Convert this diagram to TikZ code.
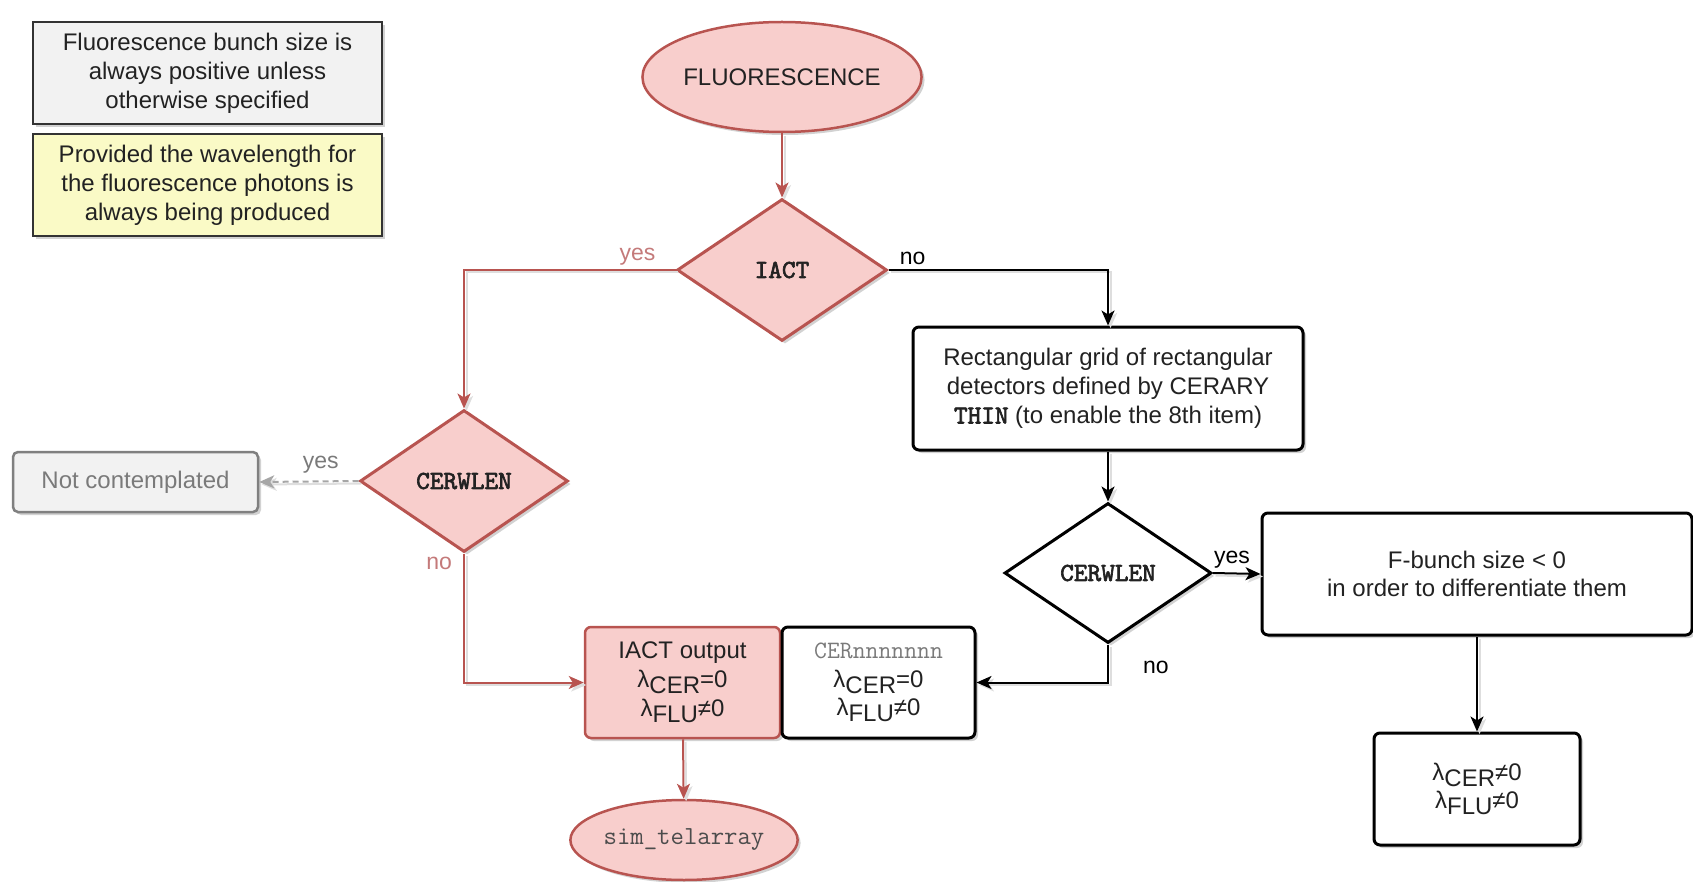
\documentclass[tikz,border=0pt]{standalone}
\usepackage{fontspec}
\setmainfont{Liberation Sans}
\newfontfamily\lmttb{lmmono10-regular}[Extension=.otf, FakeBold=2.5]
\usetikzlibrary{shapes.geometric, arrows.meta, shadows}
\definecolor{redS}{HTML}{B85450}
\definecolor{pinkF}{HTML}{F8CECC}
\definecolor{labred}{HTML}{C47A7A}
\definecolor{noteG}{HTML}{F2F2F2}
\definecolor{noteY}{HTML}{FAFAC6}
\definecolor{txt}{HTML}{222222}
\definecolor{greyT}{HTML}{7A7A7A}
\definecolor{greyS}{HTML}{808080}
\newcommand\lsb[1]{\raisebox{-6pt}{#1}}
\begin{document}
\begin{tikzpicture}[x=1pt,y=-1pt,
  base/.style={font=\fontsize{24}{28.8}\selectfont, text=txt, align=center, inner sep=0pt},
  shad/.style={drop shadow={shadow xshift=3pt, shadow yshift=-3pt, fill=black!35, opacity=0.5}},
  note/.style={base, shad, draw=black!80, line width=2pt, rectangle, minimum width=349pt, minimum height=102pt},
  blackbox/.style={base, shad, draw=black, fill=white, line width=3pt, rectangle, rounded corners=6pt},
  redbox/.style={base, shad, draw=redS, fill=pinkF, line width=2.5pt, rectangle, rounded corners=6pt},
  redell/.style={base, shad, draw=redS, fill=pinkF, line width=2.5pt, ellipse},
  monob/.style={font=\lmttb\fontsize{26}{30}\selectfont},
  reddia/.style={base, shad, draw=redS, fill=pinkF, line width=3pt, diamond, monob},
  blackdia/.style={base, shad, draw=black, fill=white, line width=3pt, diamond, monob},
  tip/.style={-{Stealth[length=15pt,width=13pt,inset=4pt]}},
  eshadow/.style={preaction={draw=black!13, line width=2pt, transform canvas={shift={(2.5pt,-2.5pt)}}}},
  redarrow/.style={eshadow, draw=redS, line width=2pt, tip},
  blackarrow/.style={eshadow, draw=black, line width=2pt, tip},
  greyarrow/.style={eshadow, draw=black!35, line width=2pt, dashed, dash pattern=on 6pt off 4pt, tip},
  elab/.style={font=\fontsize{23}{27}\selectfont, inner sep=2pt},
]
\useasboundingbox (0,0) rectangle (1693,882);

% notes
\node[note, fill=noteG] (n1) at (207.5,73) {Fluorescence bunch size is\\always positive unless\\otherwise specified};
\node[note, fill=noteY] (n2) at (207.5,185.5) {Provided the wavelength for\\the fluorescence photons is\\always being produced};

% main flow
\node[redell, minimum width=270pt, minimum height=110pt] (fl) at (782,77) {FLUORESCENCE};
\node[reddia, minimum width=210pt, minimum height=142pt] (iact) at (782,270) {IACT};
\node[reddia, minimum width=208pt, minimum height=142pt] (cw1) at (464,481) {CERWLEN};
\node[base, shad, draw=greyS, fill=noteG, line width=2.5pt, rounded corners=5pt, text=greyT,
      minimum width=245pt, minimum height=60pt] (nc) at (135.5,482) {Not contemplated};
\node[blackbox, minimum width=390pt, minimum height=123pt] (rg) at (1108,388.5)
  {Rectangular grid of rectangular\\detectors defined by CERARY\\{\lmttb\fontsize{26}{28.8}\selectfont THIN} (to enable the 8th item)};
\node[blackdia, minimum width=207pt, minimum height=140pt] (cw2) at (1108,573) {CERWLEN};
\node[blackbox, minimum width=430pt, minimum height=122pt] (fb) at (1477,574)
  {F-bunch size < 0\\in order to differentiate them};
\node[blackbox, minimum width=206pt, minimum height=112pt] (lam) at (1477,789)
  {λ\lsb{CER}≠0\\λ\lsb{FLU}≠0};
\node[redbox, minimum width=195pt, minimum height=111pt] (iout) at (682.5,682.5)
  {IACT output\\λ\lsb{CER}=0\\λ\lsb{FLU}≠0};
\node[blackbox, minimum width=193pt, minimum height=111pt] (cern) at (878.5,682.5)
  {{\ttfamily\fontsize{25}{28.8}\selectfont\color{greyT}CERnnnnnnn}\\λ\lsb{CER}=0\\λ\lsb{FLU}≠0};
\node[redell, minimum width=218pt, minimum height=80pt, font=\ttfamily\fontsize{26}{30}\selectfont, text=black!70] (sim) at (684,840) {sim\_telarray};

% connectors
\draw[redarrow] (fl) -- (iact);
\draw[redarrow] (iact.west) -| node[elab, pos=0.09, above, text=labred, yshift=2pt] {yes} (cw1.north);
\draw[blackarrow] (iact.east) -| node[elab, pos=0.055, above, yshift=2pt] {no} (rg.north);
\draw[blackarrow] (rg) -- (cw2);
\draw[blackarrow] (cw2.east) -- node[elab, pos=0.4, above, yshift=2pt] {yes} (fb.west);
\draw[blackarrow] (fb) -- (lam);
\draw[blackarrow] (cw2.south) |- node[elab, pos=0.3, right, xshift=32pt] {no} (cern.east);
\draw[greyarrow] (cw1.west) -- node[elab, pos=0.38, above, text=greyT, yshift=5pt] {yes} (nc.east);
\draw[redarrow] (cw1.south) |- node[elab, pos=0.04, left, text=labred, xshift=-9pt] {no} (iout.west);
\draw[redarrow] (iout) -- (sim);
\end{tikzpicture}
\end{document}
